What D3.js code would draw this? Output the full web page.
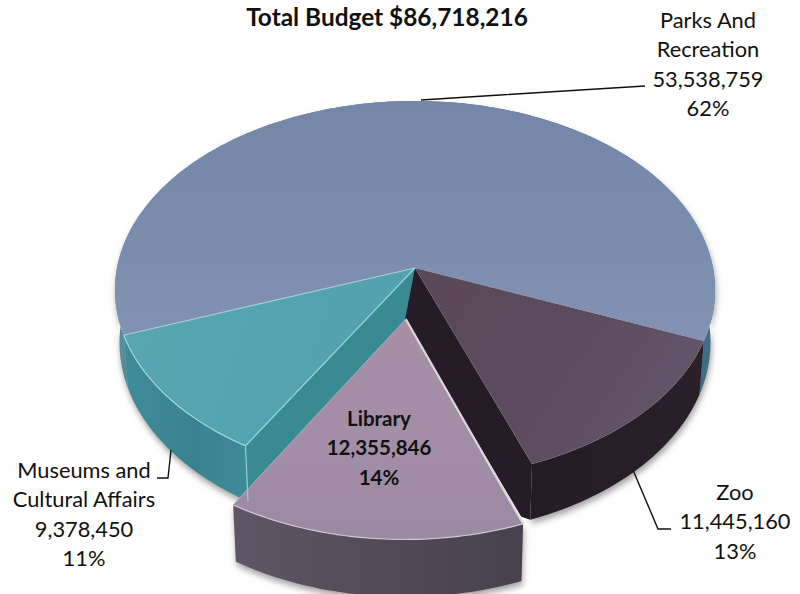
<!DOCTYPE html>
<html><head><meta charset="utf-8">
<script src="https://cdn.jsdelivr.net/npm/d3@7/dist/d3.min.js"></script>
<style>html,body{margin:0;background:#fff}svg{display:block}text{font-family:Lato,"Open Sans",sans-serif;fill:#111}</style>
</head><body><svg id="c" width="800" height="594"></svg>
<script>
const categories=["Zoo","Library","Museums and Cultural Affairs","Parks And Recreation"];
const values=[11445160,12355846,9378450,53538759];
const percents=["13%","14%","11%","62%"];
const titleText="Total Budget $86,718,216";

const svg=d3.select("#c");
const defs=svg.append("defs");
const toRad=d3.scaleLinear().domain([0,360]).range([0,2*Math.PI]);
const pie=d3.pie().sort(null).startAngle(toRad(22)).endAngle(toRad(382));
const arcs=pie(values);

// projective view of the disc
const apexX=415,apexY=268,A=155.3,C=-0.116,D=298;
function proj(u,v){const w=1+C*v;return [apexX+D*u/w,(A*v+apexY)/w];}
function lower(p){const dy=(p[1]-apexY);return [apexX+(p[0]-apexX)*0.985,p[1]+52+dy*0.02];}
function ptsArc(a0,a1,sx,sy,r){
  const n=Math.max(4,Math.ceil(Math.abs(a1-a0)/0.02));
  return d3.range(n+1).map(i=>{const t=a0+(a1-a0)*i/n;return proj(r*Math.cos(t)+sx,r*Math.sin(t)+sy);});
}
const line=d3.line();
const explode=[[0,0,1],[-0.03,0.266,0.98],[0,0,1],[0,0,1]];

const gradient=(id,x1,y1,x2,y2,stops)=>{
  const g=defs.append("linearGradient").attr("id",id).attr("gradientUnits","userSpaceOnUse")
    .attr("x1",x1).attr("y1",y1).attr("x2",x2).attr("y2",y2);
  stops.forEach(s=>g.append("stop").attr("offset",s[0]).attr("stop-color",s[1]));
  return `url(#${id})`;
};
const topFill=[
  gradient("t0",420,280,640,430,[[0,"#5a4859"],[0.6,"#5c4b5f"],[1,"#635368"]]),
  gradient("t1",400,320,400,530,[[0,"#a88fa6"],[0.6,"#a28ea6"],[1,"#9c8aa2"]]),
  gradient("t2",120,330,420,430,[[0,"#58a6b0"],[1,"#50a0ac"]]),
  gradient("t3",0,100,0,340,[[0,"#7587a9"],[0.6,"#7b8dae"],[1,"#8292b2"]])
];
const wallFill=[
  gradient("w0",520,0,700,0,[[0,"#251b25"],[1,"#2a202a"]]),
  gradient("w1",230,0,525,0,[[0,"#5e5666"],[0.5,"#544a58"],[1,"#47414f"]]),
  gradient("w2",120,0,245,0,[[0,"#3f8d9a"],[0.6,"#3a8290"],[1,"#3d8b97"]]),
  gradient("w3",114,0,716,0,[[0,"#6f8ea4"],[0.02,"#4f8a9a"],[0.9,"#3a5f76"],[1,"#3f7088"]])
];
const f=defs.append("filter").attr("id","sh").attr("x","-10%").attr("y","-10%").attr("width","120%").attr("height","120%");
f.append("feGaussianBlur").attr("stdDeviation",3);

const wallPath=(d,i)=>{
  const e=explode[i];
  const top=ptsArc(d.startAngle,d.endAngle,e[0],e[1],e[2]);
  const bot=top.map(lower).reverse();
  return line(top.concat(bot))+"Z";
};
const shadow=svg.append("g").attr("filter","url(#sh)").attr("fill","#a0a0a0").attr("transform","translate(1,4)");
arcs.forEach((d,i)=>{shadow.append("path").attr("d",wallPath(d,i));});

const order=[3,2,0,1];
const solid=svg.append("g");
order.forEach(i=>{
  const d=arcs[i],e=explode[i];
  const apex=proj(e[0],e[1]);
  const top=ptsArc(d.startAngle,d.endAngle,e[0],e[1],e[2]);
  solid.append("path").attr("d",wallPath(d,i)).attr("fill",wallFill[i]);
  if(i===2){
    const b=top[0];
    solid.append("path").attr("d",line([apex,b,lower(b),lower(apex)])+"Z").attr("fill","#3a8a92");
  }
  if(i===0){
    const b=top[top.length-1],lb=lower(b),la=lower(apex);
    solid.append("path").attr("d",line([apex,b,lb,[lb[0]-9,lb[1]-3],[la[0]-10,la[1]]])+"Z").attr("fill","#261c26");
  }
  solid.append("path").attr("d",line([apex].concat(top))+"Z").attr("fill",topFill[i]);
});
const edge=(from,to,col,w)=>solid.append("path").attr("d",line(from.concat(to))).attr("fill","none").attr("stroke",col).attr("stroke-width",w);
{
  const d=arcs[2],top=ptsArc(d.startAngle,d.endAngle,0,0,1),apex=proj(0,0);
  edge([top[top.length-1]],[apex],"#a4cdd8",1.2);
  edge([apex],[top[0]],"#9ad4dc",1.2);
  edge(top,[],"#a8dde2",1.1);
  edge([top[0]],[lower(top[0])],"#9ad4dc",1.1);
  const l=arcs[1],e=explode[1],lt=ptsArc(l.startAngle,l.endAngle,e[0],e[1],e[2]),la=proj(e[0],e[1]);
  edge([la],[lt[0]],"#d8d6d8",2.2);
  edge(lt,[],"#cfc6d2",1.2);
  edge([lt[lt.length-1]],[la],"#b8a8bc",1);
}

const leaders=[[[421,100],[500,95],[645,86]],[[633,470],[658,529],[671,529]],[[171,450],[168,478],[157,478]]];
svg.append("g").selectAll("path").data(leaders).join("path")
  .attr("d",d=>line(d)).attr("fill","none").attr("stroke","#111").attr("stroke-width",1.4);

const fmt=d3.format(",");
function label(lines,x,y0,bold,fs){
  const t=svg.append("text").attr("text-anchor","middle").attr("font-size",fs).attr("font-weight",bold?700:400);
  lines.forEach((s,i)=>t.append("tspan").attr("x",x).attr("y",y0+i*29.3).text(s));
}
svg.append("text").attr("x",387).attr("y",26).attr("text-anchor","middle").attr("font-size",24.4).attr("font-weight",700).text(titleText);
label(["Parks And","Recreation",fmt(values[3]),percents[3]],708,28,false,21.8);
label([categories[0],fmt(values[0]),percents[0]],735,500,false,21.8);
label([categories[1],fmt(values[1]),percents[1]],379,426,true,20.5);
label(["Museums and","Cultural Affairs",fmt(values[2]),percents[2]],84,478,false,21.8);
</script></body></html>
